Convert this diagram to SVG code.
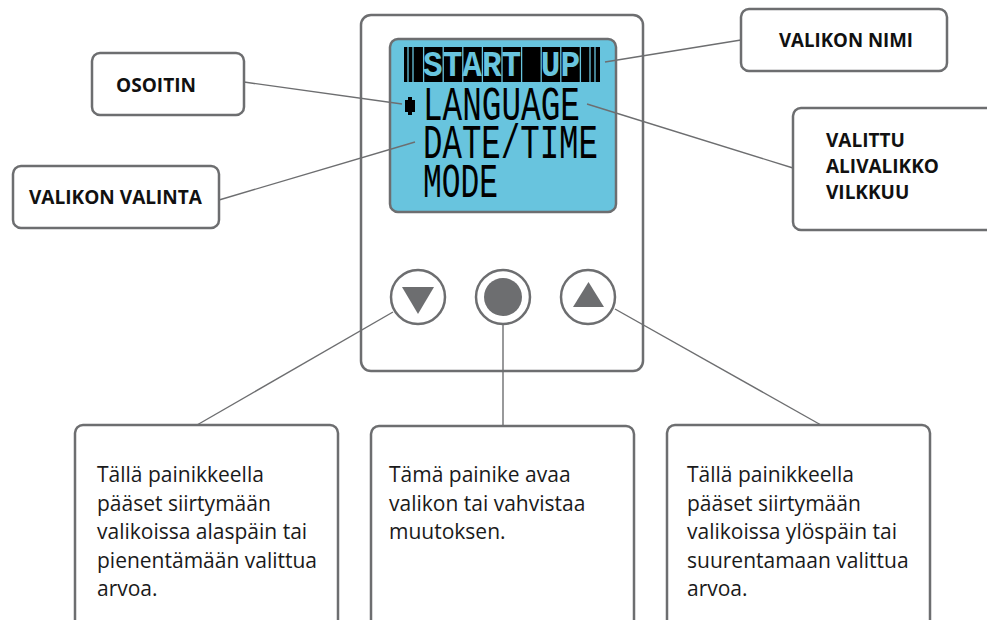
<svg xmlns="http://www.w3.org/2000/svg" width="987" height="620" viewBox="0 0 987 620">
<style>
.box{fill:#fff;stroke:#6d6e70;stroke-width:2.5}
.conn line{stroke:#6d6e70;stroke-width:1.4}
.lbl{font-family:"Open Sans","Liberation Sans",sans-serif;font-weight:bold;font-size:19px;fill:#111}
.txt{font-family:"Open Sans","Liberation Sans",sans-serif;font-size:21px;fill:#1a1a1a}
.lcd{font-family:"Liberation Mono","DejaVu Sans Mono",monospace;font-size:49px;fill:#000}
.btn{fill:#fff;stroke:#6d6e70;stroke-width:2.5}
</style>
<rect width="987" height="620" fill="#fff"/>
<g id="device">
  <rect class="box" x="361" y="15" width="282" height="356" rx="10"/>
  <rect x="390" y="39" width="226" height="173" rx="8" fill="#68c4de" stroke="#6d6e70" stroke-width="2.5"/>
  <rect x="404" y="47" width="196" height="35" fill="#000"/>
  <g stroke="#68c4de" stroke-width="1.3">
    <line x1="408" y1="47" x2="408" y2="82"/><line x1="413" y1="47" x2="413" y2="82"/>
    <line x1="423.6" y1="47" x2="423.6" y2="82"/><line x1="443.2" y1="47" x2="443.2" y2="82"/>
    <line x1="462.8" y1="47" x2="462.8" y2="82"/><line x1="482.4" y1="47" x2="482.4" y2="82"/>
    <line x1="502" y1="47" x2="502" y2="82"/><line x1="521.6" y1="47" x2="521.6" y2="82"/>
    <line x1="541.2" y1="47" x2="541.2" y2="82"/><line x1="560.8" y1="47" x2="560.8" y2="82"/>
    <line x1="580.4" y1="47" x2="580.4" y2="82"/><line x1="590" y1="47" x2="590" y2="82"/>
    <line x1="595" y1="47" x2="595" y2="82"/>
  </g>
  <text class="lcd" x="423" y="76" style="fill:#68c4de;font-size:36px;font-weight:bold" textLength="157" lengthAdjust="spacingAndGlyphs">START UP</text>
  <polygon points="408,97 412,97 412,100 415,100 415,112 412,112 412,115 408,115 408,112 405,112 405,100 408,100" fill="#000"/>
  <text class="lcd" x="423" y="120" textLength="157" lengthAdjust="spacingAndGlyphs">LANGUAGE</text>
  <text class="lcd" x="423" y="158" textLength="175" lengthAdjust="spacingAndGlyphs">DATE/TIME</text>
  <text class="lcd" x="423" y="197" textLength="75" lengthAdjust="spacingAndGlyphs">MODE</text>
</g>
<g id="btn-down">
  <circle class="btn" cx="418" cy="297" r="27"/>
  <polygon points="402,287 434,287 418,314" fill="#6d6e70"/>
</g>
<g id="btn-ok">
  <circle class="btn" cx="503" cy="297" r="27"/>
  <circle cx="503" cy="297" r="19" fill="#6d6e70"/>
</g>
<g id="btn-up">
  <circle class="btn" cx="588" cy="297" r="27"/>
  <polygon points="573,307 604,307 588.5,282" fill="#6d6e70"/>
</g>
<g class="conn" id="connectors">
  <line x1="244" y1="82" x2="402" y2="104"/>
  <line x1="219" y1="200" x2="415" y2="142"/>
  <line x1="741" y1="40" x2="605" y2="62"/>
  <line x1="793" y1="168" x2="587" y2="104"/>
  <line x1="393" y1="312" x2="197" y2="425"/>
  <line x1="503" y1="324" x2="503" y2="426" stroke-width="2.5"/>
  <line x1="615" y1="309" x2="821" y2="425"/>
</g>
<g id="osoitin">
  <rect class="box" x="92" y="53" width="152" height="62" rx="8"/>
  <text class="lbl" x="116" y="92" textLength="80" lengthAdjust="spacingAndGlyphs">OSOITIN</text>
</g>
<g id="valikon-valinta">
  <rect class="box" x="13" y="166" width="206" height="62" rx="8"/>
  <text class="lbl" x="29" y="204" textLength="173" lengthAdjust="spacingAndGlyphs">VALIKON VALINTA</text>
</g>
<g id="valikon-nimi">
  <rect class="box" x="741" y="9" width="206" height="62" rx="8"/>
  <text class="lbl" x="779" y="47" textLength="134" lengthAdjust="spacingAndGlyphs">VALIKON NIMI</text>
</g>
<g id="valittu">
  <rect class="box" x="793" y="108" width="220" height="122" rx="8"/>
  <text class="lbl" x="826" y="147">VALITTU</text>
  <text class="lbl" x="826" y="173">ALIVALIKKO</text>
  <text class="lbl" x="826" y="199">VILKKUU</text>
</g>
<g id="info-down">
  <rect class="box" x="75" y="425" width="263" height="230" rx="8"/>
  <text class="txt" x="97" y="482">Tällä painikkeella</text>
  <text class="txt" x="97" y="510.5">pääset siirtymään</text>
  <text class="txt" x="97" y="539">valikoissa alaspäin tai</text>
  <text class="txt" x="97" y="567.5">pienentämään valittua</text>
  <text class="txt" x="97" y="596">arvoa.</text>
</g>
<g id="info-ok">
  <rect class="box" x="371" y="426" width="263" height="230" rx="8"/>
  <text class="txt" x="389" y="482">Tämä painike avaa</text>
  <text class="txt" x="389" y="510.5">valikon tai vahvistaa</text>
  <text class="txt" x="389" y="539">muutoksen.</text>
</g>
<g id="info-up">
  <rect class="box" x="667" y="425" width="263" height="230" rx="8"/>
  <text class="txt" x="687" y="482">Tällä painikkeella</text>
  <text class="txt" x="687" y="510.5">pääset siirtymään</text>
  <text class="txt" x="687" y="539">valikoissa ylöspäin tai</text>
  <text class="txt" x="687" y="567.5">suurentamaan valittua</text>
  <text class="txt" x="687" y="596">arvoa.</text>
</g>
</svg>
